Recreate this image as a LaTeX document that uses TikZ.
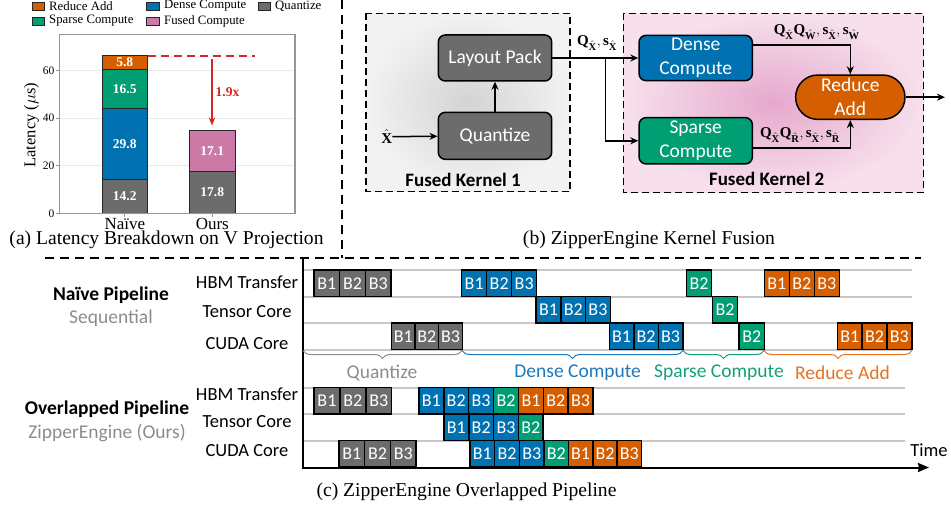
\documentclass[tikz,border=0pt]{standalone}
\usepackage{fontspec}
\setmainfont{Liberation Serif}
\newfontfamily\carl{Carlito}
\usetikzlibrary{arrows.meta,decorations.pathreplacing,calc}
\definecolor{cor}{RGB}{213,94,0}
\definecolor{cbl}{RGB}{0,114,178}
\definecolor{cgr}{RGB}{0,158,115}
\definecolor{cpk}{RGB}{204,121,167}
\definecolor{cgy}{RGB}{108,108,108}
\definecolor{cred}{RGB}{214,39,40}
\definecolor{lanec}{RGB}{200,200,200}
\definecolor{txtgray}{RGB}{140,140,140}
\definecolor{lblblue}{RGB}{30,120,190}
\definecolor{lblgreen}{RGB}{20,160,120}
\definecolor{lblorange}{RGB}{230,115,35}
\definecolor{framec}{RGB}{150,150,150}
\definecolor{gridc}{RGB}{232,232,232}
\definecolor{fkin}{RGB}{212,212,212}
\definecolor{fkout}{RGB}{242,242,242}
\definecolor{pkin}{RGB}{230,168,205}
\definecolor{pkout}{RGB}{247,224,236}
\newcommand\pbx[6]{\node[pbox,fill=#5,minimum width=#3] (#1) at ({#2+#3/2},{#4+13.25}) {#6};}
\newcommand\trio[5]{\foreach \i/\k in {0/1,1/2,2/3}{\pbx{#1\k}{#2+\i*#3}{#3}{#4}{#5}{B\k}}}
\begin{document}
\begin{tikzpicture}[x=1pt,y=-1pt,
  pbox/.style={draw=black,line width=1.5pt,inner sep=0pt,minimum height=26.5pt,text=white,font=\carl\fontsize{18}{18}\selectfont},
  rowlab/.style={font=\carl\fontsize{18.5}{20}\selectfont,inner sep=0pt},
  sidelab/.style={font=\carl\bfseries\fontsize{19.5}{20}\selectfont,inner sep=0pt},
  sidesub/.style={font=\carl\fontsize{19.5}{20}\selectfont,text=txtgray,inner sep=0pt},
  bracelab/.style={font=\carl\fontsize{19.5}{20}\selectfont,inner sep=0pt},
  lane/.style={draw=lanec,line width=2pt},
  brc/.style={decorate,decoration={brace,mirror,amplitude=8pt},line width=1pt},
  sepline/.style={draw=black,line width=2.2pt,dash pattern=on 9pt off 6pt},
  captxt/.style={font=\fontsize{19.6}{22}\selectfont,inner sep=0pt},
  kbox/.style={draw=black,line width=1.5pt,dash pattern=on 7pt off 4pt},
  kb/.style={draw=black,line width=1.5pt,rounded corners=7pt,inner sep=0pt,text=white,align=center,font=\carl\fontsize{19.5}{24}\selectfont},
  ktitle/.style={font=\carl\bfseries\fontsize{19}{20}\selectfont,inner sep=0pt},
  mlab/.style={font=\fontsize{15}{15}\selectfont,inner sep=0pt},
  arr/.style={draw=black,line width=1.5pt,-{Stealth[length=8pt,width=7pt]}},
  valtxt/.style={font=\bfseries\fontsize{13.5}{14}\selectfont,text=white,inner sep=0pt},
  legtxt/.style={font=\fontsize{12.8}{13}\selectfont,inner sep=0pt,anchor=west},
  ticktxt/.style={font=\fontsize{11.5}{12}\selectfont,inner sep=0pt,anchor=east},
  seg/.style={draw=black!85,line width=0.8pt}
]
\useasboundingbox (0,0) rectangle (951,508);

% ================= (a) chart =================
\foreach \v in {20,40,60}{\draw[gridc,line width=0.8pt] (59.3,{213.3-2.377*\v}) -- (295,{213.3-2.377*\v});}
\draw[seg,fill=cgy] (102.3,213.3) rectangle (147.3,{213.3-2.377*14.2});
\draw[seg,fill=cbl] (102.3,{213.3-2.377*14.2}) rectangle (147.3,{213.3-2.377*44.0});
\draw[seg,fill=cgr] (102.3,{213.3-2.377*44.0}) rectangle (147.3,{213.3-2.377*60.5});
\draw[seg,fill=cor] (102.3,{213.3-2.377*60.5}) rectangle (147.3,{213.3-2.377*66.3});
\draw[seg,fill=cgy] (189.3,213.3) rectangle (235.3,{213.3-2.377*17.8});
\draw[seg,fill=cpk] (189.3,{213.3-2.377*17.8}) rectangle (235.3,{213.3-2.377*34.9});
\draw[framec,line width=1.2pt] (59.3,34.3) rectangle (295,213.3);
\foreach \v in {0,20,40,60}{
  \draw[framec,line width=0.8pt] (59.3,{213.3-2.377*\v}) -- (56,{213.3-2.377*\v});
  \node[ticktxt] (tk\v) at (54.5,{213.3-2.377*\v}) {\v};}
\draw[framec,line width=0.8pt] (124.8,213.3) -- (124.8,216.5);
\draw[framec,line width=0.8pt] (212.3,213.3) -- (212.3,216.5);
\node[font=\fontsize{17}{17}\selectfont,inner sep=0pt] (xn) at (124.8,224) {Naïve};
\node[font=\fontsize{17}{17}\selectfont,inner sep=0pt] (xo) at (212.3,224) {Ours};
\node[font=\fontsize{16.5}{17}\selectfont,inner sep=0pt,rotate=90] (ylab) at (31.5,125) {Latency ($\mu$s)};
\node[valtxt] (v1) at (124.8,{213.3-2.377*7.1}) {14.2};
\node[valtxt] (v2) at (124.8,{213.3-2.377*29.1}) {29.8};
\node[valtxt] (v3) at (124.8,{213.3-2.377*52.25}) {16.5};
\node[valtxt] (v4) at (124.8,{213.3-2.377*63.4}) {5.8};
\node[valtxt] (v5) at (212.3,{213.3-2.377*8.9}) {17.8};
\node[valtxt] (v6) at (212.3,{213.3-2.377*26.35}) {17.1};
\coordinate (rd1) at (148,55.6);
\coordinate (rd2) at (255,55.6);
\draw[draw=cred,line width=1.9pt,dash pattern=on 8pt off 5pt] (rd1) -- (rd2);
\coordinate (ra1) at (212,59);
\coordinate (ra2) at (212,125.5);
\draw[draw=cred,line width=1.4pt,-{Stealth[length=8pt,width=6.5pt]}] (ra1) -- (ra2);
\node[font=\bfseries\fontsize{13.5}{14}\selectfont,text=cred,inner sep=0pt] (spd) at (227.5,92) {1.9x};
% legend
\draw[seg,line width=0.5pt,fill=cor] (32,1.8) rectangle (44.3,10.2);
\node[legtxt] (lg1) at (49,6) {Reduce Add};
\draw[seg,line width=0.5pt,fill=cbl] (146.7,1.8) rectangle (159,10.2);
\node[legtxt] (lg2) at (164,6) {Dense Compute};
\draw[seg,line width=0.5pt,fill=cgy] (258,1.8) rectangle (270.3,10.2);
\node[legtxt] (lg3) at (275,6) {Quantize};
\draw[seg,line width=0.5pt,fill=cgr] (32,16.8) rectangle (44.3,25.2);
\node[legtxt] (lg4) at (49,21) {Sparse Compute};
\draw[seg,line width=0.5pt,fill=cpk] (146.7,16.8) rectangle (159,25.2);
\node[legtxt] (lg5) at (164,21) {Fused Compute};
\node[captxt] (capa) at (166.5,240) {(a) Latency Breakdown on V Projection};

% ================= separators =================
\draw[sepline] (342,0) -- (342,258);
\draw[sepline] (45,258) -- (921,258);

% ================= (b) kernel fusion =================
\path[kbox,inner color=fkin,outer color=fkout] (366,13.3) rectangle (570,191.7);
\path[kbox,inner color=pkin,outer color=pkout] (623.3,13.3) rectangle (923.3,192.7);
\node[kb,fill=cgy,minimum width=113.4pt,minimum height=46pt] (lp) at (495,58) {Layout Pack};
\node[kb,fill=cgy,minimum width=113.4pt,minimum height=47pt] (qz) at (495,135.8) {Quantize};
\node[kb,fill=cbl,minimum width=113.3pt,minimum height=45.3pt] (dc) at (695.7,58) {Dense\\Compute};
\node[kb,fill=cgr,minimum width=113.3pt,minimum height=46.3pt] (sc) at (695.7,140.8) {Sparse\\Compute};
\node[kb,fill=cor,rounded corners=22pt,minimum width=109.3pt,minimum height=44.3pt] (rad) at (850.3,97.2) {Reduce\\Add};
\node[mlab] (xin) at (386.7,136.7) {$\hat{\mathbf{X}}$};
\draw[arr] (xin) -- (qz);
\draw[arr] (qz) -- (lp);
\draw[arr] (lp.east) -- (dc.west);
\coordinate (br) at (605.7,58);
\draw[arr] (br) |- (sc.west);
\draw[arr] ([yshift=13pt]dc.east) -| (rad.north);
\draw[arr] ([yshift=-7pt]sc.east) -| (rad.south);
\coordinate (out) at (945,97.2);
\draw[arr] (rad.east) -- (out);
\node[mlab] (l1) at (597,43) {$\mathbf{Q}_{\hat{\mathbf{X}}},\mathbf{s}_{\hat{\mathbf{X}}}$};
\node[mlab] (l2) at (816.7,32) {$\mathbf{Q}_{\hat{\mathbf{X}}}\mathbf{Q}_{\hat{\mathbf{W}}},\mathbf{s}_{\hat{\mathbf{X}}},\mathbf{s}_{\hat{\mathbf{W}}}$};
\node[mlab] (l3) at (800,135) {$\mathbf{Q}_{\hat{\mathbf{X}}}\mathbf{Q}_{\hat{\mathbf{R}}},\mathbf{s}_{\hat{\mathbf{X}}},\mathbf{s}_{\hat{\mathbf{R}}}$};
\node[ktitle] (t1) at (463,180) {Fused Kernel 1};
\node[ktitle] (t2) at (766.7,179) {Fused Kernel 2};
\node[captxt] (capb) at (649,240) {(b) ZipperEngine Kernel Fusion};

% ================= (c) pipeline =================
\foreach \yy in {270,296.5,323,349.5}{\draw[lane] (303,\yy) -- (912,\yy);}
\foreach \yy in {387.5,414,440.5}{\draw[lane] (303,\yy) -- (905,\yy);}
% naive
\trio{nqh}{314}{25.7}{270}{cgy}
\trio{nqc}{391.5}{23.6}{323}{cgy}
\trio{nbh}{461.7}{25}{270}{cbl}
\trio{nbt}{536.2}{24.7}{296.5}{cbl}
\trio{nbc}{609.3}{24.5}{323}{cbl}
\pbx{ngh}{686.3}{25.4}{270}{cgr}{B2}
\pbx{ngt}{712.5}{25.2}{296.5}{cgr}{B2}
\pbx{ngc}{739.2}{25.2}{323}{cgr}{B2}
\trio{noh}{764.3}{25}{270}{cor}
\trio{noc}{837.4}{24.8}{323}{cor}
% overlapped
\trio{oqh}{314}{25.9}{387.5}{cgy}
\trio{obh}{419}{24.8}{387.5}{cbl}
\pbx{ogh}{493.4}{25.2}{387.5}{cgr}{B2}
\trio{ooh}{518.6}{24.8}{387.5}{cor}
\trio{obt}{444}{24.8}{414}{cbl}
\pbx{ogt}{518.4}{24.8}{414}{cgr}{B2}
\trio{oqc}{339}{25.7}{440.5}{cgy}
\trio{obc}{470}{24.7}{440.5}{cbl}
\pbx{ogc}{544.1}{24.3}{440.5}{cgr}{B2}
\trio{ooc}{568.4}{24.4}{440.5}{cor}
% axis
\coordinate (axtop) at (303,258);
\coordinate (axo) at (303,467.5);
\coordinate (axend) at (929,467.5);
\draw[line width=2pt,-{Stealth[length=11pt,width=9pt,inset=1pt]}] (axtop) -- (axo) -- (axend);
\node[rowlab] (time) at (929,450) {Time};
% braces
\draw[brc,draw=txtgray] (303,350.5) -- (462,350.5);
\draw[brc,draw=lblblue] (462,350.5) -- (683,350.5);
\draw[brc,draw=lblgreen] (683,350.5) -- (764,350.5);
\draw[brc,draw=lblorange] (764,350.5) -- (912,350.5);
\node[bracelab,text=txtgray] (bq) at (382,373) {Quantize};
\node[bracelab,text=lblblue] (bd) at (577.7,373) {Dense Compute};
\node[bracelab,text=lblgreen] (bs) at (719,373) {Sparse Compute};
\node[bracelab,text=lblorange] (brd) at (842.5,373) {Reduce Add};
% row labels
\node[rowlab] (nh) at (247,282) {HBM Transfer};
\node[rowlab] (nt) at (247,312) {Tensor Core};
\node[rowlab] (nc) at (247,344) {CUDA Core};
\node[rowlab] (oh) at (247,394) {HBM Transfer};
\node[rowlab] (ot) at (247,422) {Tensor Core};
\node[rowlab] (oc) at (247,451) {CUDA Core};
\node[sidelab] (np) at (111,295) {Naïve Pipeline};
\node[sidesub] (ns) at (111,318) {Sequential};
\node[sidelab] (op) at (107,409) {Overlapped Pipeline};
\node[sidesub] (os) at (107,433) {ZipperEngine (Ours)};
\node[captxt] (capc) at (466.5,491.7) {(c) ZipperEngine Overlapped Pipeline};
\end{tikzpicture}
\end{document}
